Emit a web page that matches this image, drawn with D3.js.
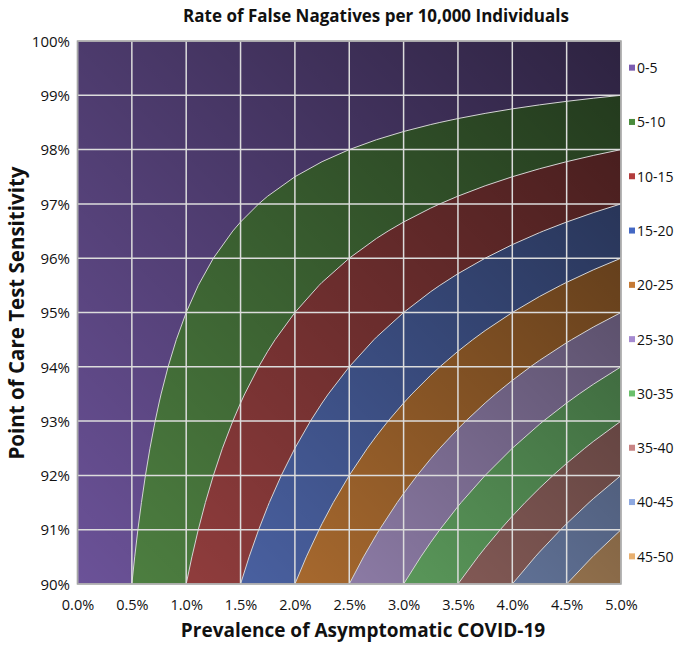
<!DOCTYPE html>
<html><head><meta charset="utf-8">
<script src="https://cdn.jsdelivr.net/npm/d3@7"></script>
<style>
body{margin:0;background:#fff}
text{font-family:"Open Sans","Noto Sans",sans-serif;fill:#111}
</style>
</head><body>
<svg id="chart" width="675" height="645"></svg>
<script>
// Prevalence of asymptomatic COVID-19 (%), columns of the surface
const prevalence = [0,0.25,0.5,0.75,1,1.25,1.5,1.75,2,2.25,2.5,2.75,3,3.25,3.5,3.75,4,4.25,4.5,4.75,5];
// Point of care test sensitivity (%), rows of the surface
const sensitivity = [90,90.5,91,91.5,92,92.5,93,93.5,94,94.5,95,95.5,96,96.5,97,97.5,98,98.5,99,99.5,100];
// False negatives per 10,000 individuals, one row per sensitivity
const falseNegatives = [
 [0,2.5,5,7.5,10,12.5,15,17.5,20,22.5,25,27.5,30,32.5,35,37.5,40,42.5,45,47.5,50],
 [0,2.375,4.75,7.125,9.5,11.875,14.25,16.625,19,21.375,23.75,26.125,28.5,30.875,33.25,35.625,38,40.375,42.75,45.125,47.5],
 [0,2.25,4.5,6.75,9,11.25,13.5,15.75,18,20.25,22.5,24.75,27,29.25,31.5,33.75,36,38.25,40.5,42.75,45],
 [0,2.125,4.25,6.375,8.5,10.625,12.75,14.875,17,19.125,21.25,23.375,25.5,27.625,29.75,31.875,34,36.125,38.25,40.375,42.5],
 [0,2,4,6,8,10,12,14,16,18,20,22,24,26,28,30,32,34,36,38,40],
 [0,1.875,3.75,5.625,7.5,9.375,11.25,13.125,15,16.875,18.75,20.625,22.5,24.375,26.25,28.125,30,31.875,33.75,35.625,37.5],
 [0,1.75,3.5,5.25,7,8.75,10.5,12.25,14,15.75,17.5,19.25,21,22.75,24.5,26.25,28,29.75,31.5,33.25,35],
 [0,1.625,3.25,4.875,6.5,8.125,9.75,11.375,13,14.625,16.25,17.875,19.5,21.125,22.75,24.375,26,27.625,29.25,30.875,32.5],
 [0,1.5,3,4.5,6,7.5,9,10.5,12,13.5,15,16.5,18,19.5,21,22.5,24,25.5,27,28.5,30],
 [0,1.375,2.75,4.125,5.5,6.875,8.25,9.625,11,12.375,13.75,15.125,16.5,17.875,19.25,20.625,22,23.375,24.75,26.125,27.5],
 [0,1.25,2.5,3.75,5,6.25,7.5,8.75,10,11.25,12.5,13.75,15,16.25,17.5,18.75,20,21.25,22.5,23.75,25],
 [0,1.125,2.25,3.375,4.5,5.625,6.75,7.875,9,10.125,11.25,12.375,13.5,14.625,15.75,16.875,18,19.125,20.25,21.375,22.5],
 [0,1,2,3,4,5,6,7,8,9,10,11,12,13,14,15,16,17,18,19,20],
 [0,0.875,1.75,2.625,3.5,4.375,5.25,6.125,7,7.875,8.75,9.625,10.5,11.375,12.25,13.125,14,14.875,15.75,16.625,17.5],
 [0,0.75,1.5,2.25,3,3.75,4.5,5.25,6,6.75,7.5,8.25,9,9.75,10.5,11.25,12,12.75,13.5,14.25,15],
 [0,0.625,1.25,1.875,2.5,3.125,3.75,4.375,5,5.625,6.25,6.875,7.5,8.125,8.75,9.375,10,10.625,11.25,11.875,12.5],
 [0,0.5,1,1.5,2,2.5,3,3.5,4,4.5,5,5.5,6,6.5,7,7.5,8,8.5,9,9.5,10],
 [0,0.375,0.75,1.125,1.5,1.875,2.25,2.625,3,3.375,3.75,4.125,4.5,4.875,5.25,5.625,6,6.375,6.75,7.125,7.5],
 [0,0.25,0.5,0.75,1,1.25,1.5,1.75,2,2.25,2.5,2.75,3,3.25,3.5,3.75,4,4.25,4.5,4.75,5],
 [0,0.125,0.25,0.375,0.5,0.625,0.75,0.875,1,1.125,1.25,1.375,1.5,1.625,1.75,1.875,2,2.125,2.25,2.375,2.5],
 [0,0,0,0,0,0,0,0,0,0,0,0,0,0,0,0,0,0,0,0,0]
];
const bandThresholds = [0,5,10,15,20,25,30,35,40,45];
const bandLabels = ["0-5","5-10","10-15","15-20","20-25","25-30","30-35","35-40","40-45","45-50"];
const bandColors = ["#6b5298","#4f8242","#984040","#5069af","#bc7634","#a38fc0","#6cb66c","#a26f6a","#7c92c1","#c39666"];
const legendColors = ["#7b5cb0","#4a8c3c","#b23c3c","#4468c4","#c67a34","#a58ad0","#6cc06c","#c88484","#8ea8e0","#e8b070"];
const xTicks = [0,0.5,1,1.5,2,2.5,3,3.5,4,4.5,5];
const yTicks = [90,91,92,93,94,95,96,97,98,99,100];

const svg = d3.select("#chart");
const L = 77.5, R = 621, T = 41, B = 584;
const x = d3.scaleLinear().domain([0,5]).range([L,R]);
const y = d3.scaleLinear().domain([90,100]).range([B,T]);

// grid index space of d3.contours -> data values
const nx = prevalence.length, ny = sensitivity.length;
const ix = d3.scaleLinear().domain([0.5, nx-0.5]).range([prevalence[0], prevalence[nx-1]]);
const iy = d3.scaleLinear().domain([0.5, ny-0.5]).range([sensitivity[0], sensitivity[ny-1]]);
const proj = d3.geoTransform({point(px,py){ this.stream.point(x(ix(px)), y(iy(py))); }});
const path = d3.geoPath(proj);

const flat = falseNegatives.flat();
const contours = d3.contours().size([nx, ny]).thresholds(bandThresholds)(flat);

const defs = svg.append("defs");
defs.append("clipPath").attr("id","plotClip").append("rect")
  .attr("x",L).attr("y",T).attr("width",R-L).attr("height",B-T);
const grad = defs.append("linearGradient").attr("id","shade")
  .attr("x1",0).attr("y1",1).attr("x2",1).attr("y2",0);
grad.append("stop").attr("offset",0).attr("stop-color","#000").attr("stop-opacity",0);
grad.append("stop").attr("offset",1).attr("stop-color","#000").attr("stop-opacity",0.58);

const plot = svg.append("g").attr("clip-path","url(#plotClip)");
plot.selectAll("path.band").data(contours).join("path")
  .attr("class","band")
  .attr("d", path)
  .attr("fill", (d,i) => bandColors[i]);
plot.append("rect").attr("x",L).attr("y",T).attr("width",R-L).attr("height",B-T)
  .attr("fill","url(#shade)");
plot.selectAll("path.iso").data(contours.slice(1)).join("path")
  .attr("class","iso")
  .attr("d", path)
  .attr("fill","none")
  .attr("stroke","#d4d4d4")
  .attr("stroke-width",1);

// gridlines
svg.append("g").selectAll("line").data(xTicks).join("line")
  .attr("x1",d=>x(d)).attr("x2",d=>x(d)).attr("y1",T).attr("y2",B)
  .attr("stroke","#dcdcdc").attr("stroke-width",1.5);
svg.append("g").selectAll("line").data(yTicks).join("line")
  .attr("x1",L).attr("x2",R).attr("y1",d=>y(d)).attr("y2",d=>y(d))
  .attr("stroke","#dcdcdc").attr("stroke-width",1.5);
svg.append("rect").attr("x",L).attr("y",T).attr("width",R-L).attr("height",B-T)
  .attr("fill","none").attr("stroke","#a6a6a6").attr("stroke-width",1.5);

// axes (labels only)
const xAxis = d3.axisBottom(x).tickValues(xTicks).tickFormat(d=>d3.format(".1f")(d)+"%").tickSize(0).tickPadding(0);
const gx = svg.append("g").attr("transform",`translate(0,${B})`).call(xAxis);
gx.select(".domain").remove();
gx.selectAll("text").attr("y",26).attr("dy",0).style("font-size","14.5px").style("font-family",'"Open Sans",sans-serif').attr("fill","#111");

const yAxis = d3.axisLeft(y).tickValues(yTicks).tickFormat(d=>d+"%").tickSize(0).tickPadding(0);
const gy = svg.append("g").attr("transform",`translate(70,0)`).call(yAxis);
gy.select(".domain").remove();
gy.selectAll("text").attr("x",0).attr("dy","0.35em").style("font-size","15px").style("font-family",'"Open Sans",sans-serif').attr("fill","#111");

// titles
svg.append("text").attr("x",376).attr("y",22).attr("text-anchor","middle")
  .style("font-size","17px").style("font-weight","700")
  .text("Rate of False Nagatives per 10,000 Individuals");
svg.append("text").attr("x",363).attr("y",637).attr("text-anchor","middle")
  .style("font-size","19px").style("font-weight","700")
  .text("Prevalence of Asymptomatic COVID-19");
svg.append("text").attr("transform","translate(24,313) rotate(-90)").attr("text-anchor","middle")
  .style("font-size","20.5px").style("font-weight","700")
  .text("Point of Care Test Sensitivity");

// legend
const lg = svg.append("g").selectAll("g").data(bandLabels).join("g")
  .attr("transform",(d,i)=>`translate(629,${y(99.5 - i)})`);
lg.append("rect").attr("x",0).attr("y",-3.5).attr("width",6).attr("height",6)
  .attr("fill",(d,i)=>legendColors[i]);
lg.append("text").attr("x",8).attr("dy","0.35em").style("font-size","14px").text(d=>d);
</script>
</body></html>
